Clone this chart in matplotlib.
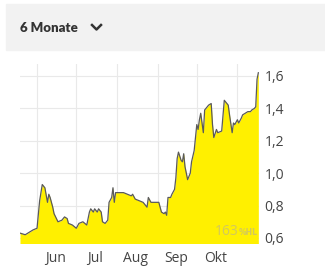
import pandas as pd
import matplotlib.pyplot as plt
import matplotlib.dates as mdates
from matplotlib.lines import Line2D

# Kursverlauf (6 Monate): Tage seit Startdatum und Kurs
start = '2023-05-19'
tage = [0, 4, 6, 8, 10, 13, 15, 17, 19, 21, 22, 23, 25, 26, 29, 32, 34, 36, 37,
        40, 43, 45, 48, 51, 53, 54, 56, 57, 59, 60, 62, 63, 65, 67, 68, 70, 71,
        72, 73, 75, 79, 82, 85, 86, 88, 91, 94, 96, 97, 98, 100, 103, 106, 108,
        110, 111, 112, 113, 115, 116, 118, 119, 120, 121, 123, 124, 125, 126,
        128, 130, 131, 133, 134, 135, 136, 137, 138, 140, 141, 143, 144, 146,
        147, 148, 150, 151, 154, 156, 158, 159, 160, 162, 163, 164, 166, 167,
        169, 170, 172, 174, 176, 177, 179, 180, 181, 182]
kurs = [0.63, 0.62, 0.63, 0.64, 0.65, 0.66, 0.83, 0.93, 0.91, 0.82, 0.87, 0.85,
        0.79, 0.75, 0.70, 0.71, 0.73, 0.72, 0.69, 0.68, 0.66, 0.69, 0.70, 0.68,
        0.76, 0.78, 0.76, 0.78, 0.76, 0.78, 0.76, 0.70, 0.69, 0.71, 0.82, 0.85,
        0.91, 0.82, 0.88, 0.88, 0.88, 0.87, 0.86, 0.87, 0.84, 0.83, 0.82, 0.80,
        0.79, 0.85, 0.82, 0.82, 0.82, 0.76, 0.75, 0.76, 0.74, 0.85, 0.85, 0.87,
        0.90, 0.97, 1.09, 1.13, 1.08, 1.07, 1.12, 1.04, 0.96, 1.00, 1.07, 1.14,
        1.22, 1.30, 1.27, 1.33, 1.37, 1.25, 1.39, 1.41, 1.42, 1.43, 1.30, 1.22,
        1.27, 1.25, 1.26, 1.45, 1.43, 1.42, 1.36, 1.25, 1.31, 1.30, 1.33, 1.31,
        1.34, 1.36, 1.37, 1.38, 1.38, 1.39, 1.40, 1.41, 1.58, 1.62]
monate = ['Jun', 'Jul', 'Aug', 'Sep', 'Okt']
y_ticks = [0.6, 0.8, 1.0, 1.2, 1.4, 1.6]

datum = pd.Timestamp(start) + pd.to_timedelta(tage, unit='D')

fig = plt.figure(figsize=(3.25, 2.71), dpi=100)

# Kopfzeile mit Zeitraum-Auswahl
fig.patches.append(plt.Rectangle((6 / 325, 1 - 50 / 271), 319 / 325, 46 / 271,
                                 transform=fig.transFigure, color='#f2f2f2', zorder=0))
fig.text(20 / 325, 1 - 28 / 271, '6 Monate', fontsize=9.5, fontweight='heavy',
         family='Lato', color='#333333', va='center')
fig.lines.append(Line2D([92 / 325, 96.5 / 325, 101 / 325],
                        [1 - 25 / 271, 1 - 29.5 / 271, 1 - 25 / 271],
                        transform=fig.transFigure, color='#333333', lw=1.8))

ax = fig.add_axes([20 / 325, 28 / 271, 239 / 325, 179 / 271])
ax.fill_between(datum, kurs, 0, color='#fff000', lw=0, zorder=2)
ax.plot(datum, kurs, color='#5a5a5a', lw=0.9, zorder=3)

ax.set_xlim(datum[0], datum[-1] + pd.Timedelta(days=0.5))
ax.set_ylim(0.569, 1.674)

ax.xaxis.set_major_locator(mdates.MonthLocator())
ax.xaxis.set_major_formatter(plt.NullFormatter())
ax.xaxis.set_minor_locator(mdates.MonthLocator(bymonthday=15))
ax.xaxis.set_minor_formatter(plt.FuncFormatter(
    lambda v, p: monate[mdates.num2date(v).month - 6] if 6 <= mdates.num2date(v).month <= 10 else ''))
ax.tick_params(axis='x', which='both', length=0, labelsize=10, labelcolor='#444444', pad=6)

ax.yaxis.tick_right()
ax.set_yticks(y_ticks)
ax.set_yticklabels([f'{v:.1f}'.replace('.', ',') for v in y_ticks])
ax.tick_params(axis='y', length=0, labelsize=10, labelcolor='#444444', pad=4)

for lbl in ax.get_xticklabels(minor=True) + ax.get_yticklabels():
    lbl.set_family('Open Sans')

ax.grid(True, color='#e9e9e9', lw=0.8, zorder=1)
for s in ax.spines.values():
    s.set_visible(False)

# Wasserzeichen unten rechts
ax.text(0.915, 0.025, '163', transform=ax.transAxes, fontsize=10, color='#d2c85e',
        ha='right', va='bottom', family='Open Sans')
ax.text(0.995, 0.035, '%HL', transform=ax.transAxes, fontsize=5.5, color='#d2c85e',
        ha='right', va='bottom', fontweight='bold')

fig.savefig('out.png', dpi=100)
